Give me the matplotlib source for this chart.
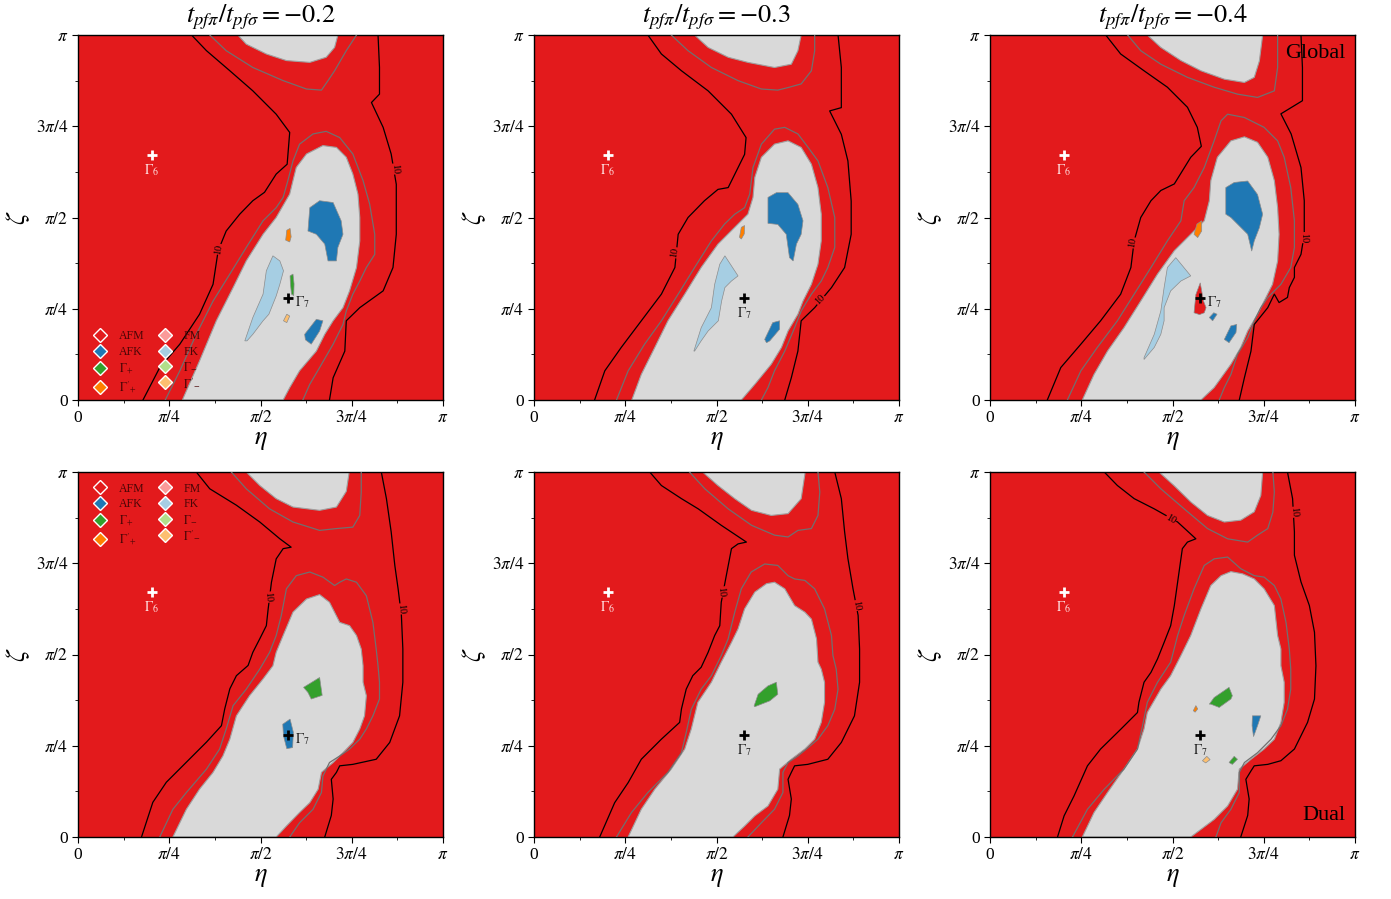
import numpy as np
import matplotlib
matplotlib.use("Agg")
import matplotlib.pyplot as plt
from matplotlib.lines import Line2D

plt.rcParams['font.family'] = ['Liberation Serif', 'DejaVu Serif']
plt.rcParams['mathtext.fontset'] = 'stix'

# ---------------- colours / phases ----------------
PHASES = ['AFM', 'AFK', 'G+', "G'+", 'FM', 'FK', 'G-', "G'-"]
PHASE_LABELS = ['AFM', 'AFK', r'$\Gamma_{+}$', r"$\Gamma'_{+}$", 'FM', 'FK', r'$\Gamma_{-}$', r"$\Gamma'_{-}$"]
PHASE_COLORS = ['#e31a1c', '#1f78b4', '#33a02c', '#ff7f00', '#fb9a99', '#a6cee3', '#b2df8a', '#fdbf6f']
GREY = '#d9d9d9'

TITLES = [r'$t_{pf\pi}/t_{pf\sigma}=-0.2$', r'$t_{pf\pi}/t_{pf\sigma}=-0.3$', r'$t_{pf\pi}/t_{pf\sigma}=-0.4$']
TICK_VALUES = [0, 0.25, 0.5, 0.75, 1.0]            # in units of pi
TICK_LABELS = ['0', r'$\pi/4$', r'$\pi/2$', r'$3\pi/4$', r'$\pi$']
GAMMA6 = (0.202, 0.671)   # (eta, zeta) in units of pi
GAMMA7 = (0.575, 0.279)

# ---------------- panel 1 (global, -0.2) ----------------
P1_GREY_MAIN = [(0.286,0),(0.333,0.107),(0.379,0.217),(0.425,0.308),(0.461,0.381),(0.507,0.454),(0.543,0.500),
    (0.580,0.564),(0.589,0.601),(0.598,0.637),(0.626,0.674),(0.671,0.697),(0.708,0.692),(0.735,0.665),(0.753,0.619),
    (0.767,0.564),(0.772,0.500),(0.772,0.436),(0.763,0.363),(0.744,0.299),(0.726,0.253),(0.699,0.217),(0.676,0.180),
    (0.653,0.134),(0.607,0.080),(0.580,0.034),(0.562,0)]
P1_GREY_TOP = [(0.438,1),(0.461,0.975),(0.516,0.948),(0.571,0.930),(0.635,0.925),(0.680,0.939),(0.703,0.966),(0.712,1)]
P1_C5_TOP = [(0.361,1),(0.406,0.957),(0.479,0.911),(0.562,0.875),(0.626,0.852),(0.667,0.849),(0.685,0.875),
    (0.703,0.902),(0.735,0.957),(0.763,1)]
P1_C5_MAIN = [(0.239,0),(0.279,0.080),(0.324,0.180),(0.370,0.271),(0.416,0.345),(0.461,0.418),(0.507,0.491),
    (0.543,0.527),(0.562,0.555),(0.575,0.601),(0.589,0.655),(0.607,0.701),(0.644,0.729),(0.680,0.736),(0.717,0.719),
    (0.753,0.674),(0.781,0.601),(0.799,0.537),(0.813,0.454),(0.813,0.399),(0.790,0.363),(0.772,0.326),(0.753,0.290),
    (0.735,0.244),(0.726,0.207),(0.699,0.153),(0.662,0.089),(0.635,0.043),(0.616,0)]
P1_C10_LEFT = [(0.311,1),(0.352,0.957),(0.416,0.902),(0.479,0.847),(0.543,0.783),(0.580,0.733),(0.573,0.646),
    (0.543,0.619),(0.511,0.569),(0.479,0.546),(0.443,0.509),(0.406,0.463),(0.384,0.409),(0.370,0.317),(0.333,0.235),
    (0.279,0.153),(0.224,0.089),(0.178,0)]
P1_C10_RIGHT = [(0.822,1),(0.826,0.911),(0.826,0.838),(0.804,0.815),(0.836,0.747),(0.858,0.674),(0.872,0.591),
    (0.872,0.454),(0.863,0.363),(0.836,0.299),(0.772,0.253),(0.735,0.217),(0.731,0.134),(0.699,0.061),(0.689,0)]
P1_AFK_A = [(0.635,0.527),(0.662,0.546),(0.699,0.541),(0.721,0.491),(0.726,0.454),(0.712,0.418),(0.708,0.381),
    (0.685,0.381),(0.676,0.427),(0.653,0.454),(0.630,0.463)]
P1_AFK_B = [(0.621,0.180),(0.653,0.221),(0.671,0.217),(0.662,0.189),(0.639,0.153),(0.623,0.165)]
P1_FK = [(0.457,0.162),(0.479,0.226),(0.507,0.290),(0.516,0.354),(0.534,0.395),(0.553,0.381),(0.563,0.354),
    (0.553,0.317),(0.543,0.285),(0.523,0.235),(0.507,0.217),(0.479,0.180),(0.463,0.162)]
P1_GPP = [(0.569,0.438),(0.572,0.465),(0.581,0.470),(0.584,0.447),(0.580,0.433)]
P1_GP = [(0.581,0.340),(0.589,0.345),(0.592,0.318),(0.591,0.286),(0.585,0.290),(0.582,0.318)]
P1_GMM = [(0.563,0.217),(0.572,0.235),(0.580,0.230),(0.572,0.212)]

# ---------------- panel 2 (global, -0.3) ----------------
P2_GREY_MAIN = [(0.268,0),(0.294,0.070),(0.331,0.144),(0.367,0.217),(0.413,0.290),(0.458,0.363),(0.504,0.427),
    (0.550,0.473),(0.586,0.509),(0.600,0.555),(0.605,0.610),(0.623,0.665),(0.659,0.701),(0.696,0.710),(0.732,0.692),
    (0.760,0.646),(0.778,0.582),(0.787,0.509),(0.787,0.436),(0.778,0.372),(0.760,0.317),(0.737,0.271),(0.723,0.235),
    (0.696,0.189),(0.678,0.144),(0.650,0.098),(0.605,0.043),(0.568,0)]
P2_GREY_TOP = [(0.440,1),(0.477,0.966),(0.532,0.939),(0.586,0.925),(0.659,0.911),(0.705,0.920),(0.723,0.957),(0.732,1)]
P2_C5_TOP = [(0.376,1),(0.422,0.957),(0.486,0.911),(0.559,0.875),(0.623,0.852),(0.668,0.849),(0.696,0.856),
    (0.732,0.866),(0.760,0.902),(0.769,0.957),(0.769,1)]
P2_C5_MAIN = [(0.226,0),(0.258,0.080),(0.303,0.153),(0.349,0.217),(0.395,0.290),(0.440,0.363),(0.486,0.436),
    (0.522,0.482),(0.550,0.509),(0.577,0.527),(0.591,0.564),(0.600,0.637),(0.623,0.701),(0.659,0.742),(0.687,0.747),
    (0.723,0.729),(0.751,0.692),(0.778,0.655),(0.805,0.582),(0.824,0.500),(0.824,0.418),(0.805,0.363),(0.787,0.326),
    (0.760,0.290),(0.732,0.244),(0.714,0.198),(0.687,0.134),(0.659,0.080),(0.641,0.034),(0.623,0)]
P2_C10_LEFT = [(0.312,1),(0.349,0.948),(0.404,0.902),(0.477,0.847),(0.541,0.783),(0.581,0.719),(0.577,0.673),
    (0.532,0.582),(0.504,0.577),(0.467,0.546),(0.422,0.500),(0.395,0.454),(0.386,0.363),(0.349,0.290),(0.294,0.217),
    (0.239,0.144),(0.194,0.080),(0.166,0)]
P2_C10_RIGHT = [(0.833,1),(0.842,0.911),(0.842,0.801),(0.810,0.792),(0.842,0.728),(0.860,0.655),(0.869,0.545),
    (0.869,0.454),(0.851,0.363),(0.815,0.308),(0.769,0.253),(0.732,0.217),(0.723,0.134),(0.705,0.061),(0.687,0)]
P2_AFK_A = [(0.641,0.555),(0.664,0.568),(0.696,0.568),(0.723,0.536),(0.737,0.491),(0.732,0.454),(0.719,0.427),
    (0.710,0.381),(0.700,0.390),(0.691,0.454),(0.668,0.481),(0.641,0.484)]
P2_AFK_B = [(0.632,0.166),(0.654,0.212),(0.673,0.217),(0.673,0.194),(0.646,0.162),(0.637,0.157)]
P2_FK = [(0.438,0.134),(0.458,0.198),(0.486,0.253),(0.495,0.317),(0.509,0.372),(0.523,0.395),(0.559,0.340),
    (0.541,0.326),(0.523,0.308),(0.514,0.271),(0.505,0.217),(0.477,0.189),(0.458,0.162),(0.440,0.134)]
P2_GPP = [(0.563,0.446),(0.568,0.473),(0.577,0.478),(0.576,0.455),(0.568,0.441)]

# ---------------- panel 3 (global, -0.4) ----------------
P3_GREY_MAIN = [(0.253,0),(0.285,0.070),(0.322,0.134),(0.367,0.198),(0.413,0.271),(0.459,0.345),(0.505,0.409),
    (0.550,0.454),(0.587,0.491),(0.601,0.546),(0.605,0.601),(0.623,0.665),(0.660,0.710),(0.697,0.721),(0.733,0.706),
    (0.761,0.665),(0.779,0.601),(0.788,0.527),(0.792,0.454),(0.788,0.381),(0.774,0.317),(0.751,0.271),(0.733,0.235),
    (0.706,0.189),(0.687,0.144),(0.660,0.098),(0.614,0.034),(0.578,0)]
P3_GREY_TOP = [(0.431,1),(0.468,0.966),(0.523,0.930),(0.578,0.902),(0.642,0.879),(0.697,0.870),(0.724,0.884),
    (0.738,0.929),(0.747,1)]
P3_C5_TOP = [(0.377,1),(0.413,0.957),(0.468,0.920),(0.541,0.884),(0.614,0.857),(0.678,0.838),(0.733,0.829),
    (0.779,0.847),(0.788,0.911),(0.788,1)]
P3_C5_MAIN = [(0.212,0),(0.249,0.080),(0.294,0.144),(0.349,0.217),(0.395,0.290),(0.441,0.363),(0.486,0.436),
    (0.523,0.491),(0.532,0.546),(0.559,0.582),(0.587,0.637),(0.614,0.710),(0.633,0.765),(0.651,0.783),(0.697,0.774),
    (0.751,0.747),(0.788,0.710),(0.806,0.665),(0.824,0.582),(0.834,0.491),(0.834,0.418),(0.824,0.363),(0.797,0.317),
    (0.761,0.281),(0.742,0.253),(0.724,0.217),(0.706,0.171),(0.678,0.125),(0.660,0.070),(0.642,0.034),(0.628,0)]
P3_C10_LEFT = [(0.317,1),(0.358,0.948),(0.422,0.902),(0.486,0.857),(0.541,0.802),(0.568,0.747),(0.579,0.695),
    (0.550,0.665),(0.505,0.592),(0.468,0.574),(0.441,0.546),(0.413,0.500),(0.395,0.436),(0.386,0.363),(0.358,0.290),
    (0.303,0.217),(0.249,0.153),(0.194,0.089),(0.157,0)]
P3_C10_RIGHT = [(0.852,1),(0.856,0.911),(0.856,0.820),(0.797,0.784),(0.825,0.729),(0.852,0.637),(0.861,0.546),
    (0.861,0.454),(0.852,0.399),(0.834,0.363),(0.834,0.336),(0.820,0.308),(0.815,0.281),(0.792,0.267),(0.779,0.290),
    (0.761,0.253),(0.724,0.207),(0.715,0.134),(0.697,0.061),(0.683,0)]
P3_AFK_A = [(0.646,0.582),(0.669,0.596),(0.706,0.600),(0.733,0.563),(0.747,0.509),(0.738,0.472),(0.724,0.436),
    (0.717,0.408),(0.706,0.454),(0.688,0.472),(0.660,0.500),(0.646,0.509)]
P3_AFK_B = [(0.642,0.166),(0.660,0.203),(0.676,0.207),(0.674,0.185),(0.655,0.157)]
P3_AFK_C = [(0.601,0.226),(0.613,0.239),(0.622,0.235),(0.610,0.217)]
P3_FK = [(0.422,0.116),(0.450,0.180),(0.468,0.244),(0.477,0.308),(0.486,0.363),(0.509,0.390),(0.550,0.340),
    (0.523,0.326),(0.495,0.299),(0.477,0.253),(0.477,0.217),(0.468,0.180),(0.450,0.144),(0.422,0.111)]
P3_AFM = [(0.559,0.239),(0.564,0.289),(0.576,0.321),(0.585,0.271),(0.592,0.253),(0.587,0.239),(0.574,0.234)]
P3_GPP = [(0.559,0.454),(0.567,0.482),(0.580,0.491),(0.580,0.463),(0.569,0.445)]

# ---------------- panel 4 (dual, -0.2) ----------------
P4_GREY_MAIN = [(0.260,0),(0.297,0.076),(0.333,0.131),(0.370,0.177),(0.397,0.222),(0.416,0.268),(0.434,0.332),
    (0.470,0.387),(0.507,0.433),(0.534,0.469),(0.543,0.506),(0.562,0.552),(0.589,0.616),(0.626,0.652),(0.662,0.664),
    (0.689,0.643),(0.717,0.588),(0.744,0.579),(0.763,0.552),(0.776,0.515),(0.781,0.469),(0.781,0.424),(0.790,0.387),
    (0.785,0.332),(0.772,0.296),(0.753,0.259),(0.726,0.231),(0.699,0.204),(0.667,0.177),(0.658,0.131),(0.635,0.094),
    (0.607,0.067),(0.571,0.030),(0.543,0)]
P4_GREY_TOP = [(0.461,1),(0.498,0.963),(0.543,0.927),(0.589,0.904),(0.662,0.895),(0.708,0.904),(0.735,0.947),(0.743,1)]
P4_C5_TOP = [(0.420,1),(0.461,0.954),(0.525,0.899),(0.589,0.863),(0.662,0.840),(0.708,0.845),(0.753,0.849),
    (0.772,0.881),(0.776,0.945),(0.776,1)]
P4_C5_MAIN = [(0.224,0),(0.260,0.076),(0.297,0.122),(0.352,0.186),(0.388,0.241),(0.406,0.296),(0.425,0.360),
    (0.461,0.405),(0.498,0.460),(0.525,0.506),(0.543,0.552),(0.557,0.607),(0.571,0.680),(0.598,0.716),(0.635,0.726),
    (0.671,0.712),(0.703,0.689),(0.717,0.698),(0.735,0.707),(0.763,0.698),(0.790,0.661),(0.808,0.588),(0.817,0.515),
    (0.822,0.469),(0.826,0.424),(0.826,0.378),(0.808,0.332),(0.790,0.296),(0.772,0.268),(0.744,0.241),(0.717,0.222),
    (0.689,0.204),(0.671,0.167),(0.667,0.122),(0.644,0.076),(0.607,0.039),(0.580,0)]
P4_C10_LEFT = [(0.324,1),(0.361,0.954),(0.434,0.909),(0.498,0.863),(0.553,0.817),(0.584,0.794),(0.562,0.790),
    (0.543,0.762),(0.530,0.698),(0.521,0.625),(0.516,0.579),(0.498,0.543),(0.479,0.506),(0.466,0.470),(0.434,0.442),
    (0.416,0.406),(0.402,0.351),(0.393,0.305),(0.352,0.260),(0.297,0.205),(0.242,0.150),(0.205,0.095),(0.174,0)]
P4_C10_RIGHT = [(0.831,1),(0.845,0.927),(0.858,0.836),(0.868,0.744),(0.877,0.680),(0.886,0.607),(0.890,0.515),
    (0.890,0.424),(0.881,0.332),(0.854,0.259),(0.817,0.213),(0.753,0.199),(0.717,0.195),(0.708,0.177),(0.694,0.158),
    (0.699,0.104),(0.694,0.059),(0.676,0)]
P4_GP = [(0.618,0.410),(0.662,0.437),(0.669,0.388),(0.639,0.378),(0.630,0.396)]
P4_AFK = [(0.561,0.309),(0.581,0.323),(0.590,0.287),(0.588,0.245),(0.572,0.242),(0.563,0.277)]

# ---------------- panel 5 (dual, -0.3) ----------------
P5_GREY_MAIN = [(0.258,0),(0.294,0.076),(0.331,0.131),(0.376,0.186),(0.413,0.241),(0.431,0.296),(0.449,0.369),
    (0.486,0.424),(0.513,0.479),(0.541,0.533),(0.559,0.570),(0.577,0.625),(0.605,0.671),(0.637,0.694),(0.659,0.698),
    (0.687,0.680),(0.714,0.634),(0.742,0.616),(0.760,0.597),(0.774,0.543),(0.778,0.479),(0.787,0.460),(0.796,0.424),
    (0.796,0.369),(0.787,0.314),(0.769,0.268),(0.742,0.241),(0.705,0.213),(0.673,0.186),(0.668,0.131),(0.641,0.085),
    (0.605,0.058),(0.577,0.030),(0.545,0)]
P5_GREY_TOP = [(0.462,1),(0.504,0.963),(0.550,0.927),(0.596,0.895),(0.650,0.881),(0.696,0.886),(0.732,0.927),(0.743,1)]
P5_C5_TOP = [(0.426,1),(0.468,0.954),(0.532,0.899),(0.596,0.854),(0.659,0.827),(0.696,0.822),(0.723,0.840),
    (0.760,0.845),(0.778,0.881),(0.783,0.945),(0.778,1)]
P5_C5_MAIN = [(0.226,0),(0.267,0.067),(0.312,0.122),(0.367,0.177),(0.404,0.231),(0.417,0.286),(0.431,0.350),
    (0.458,0.405),(0.486,0.442),(0.513,0.497),(0.532,0.543),(0.550,0.616),(0.568,0.680),(0.595,0.726),(0.632,0.748),
    (0.668,0.744),(0.696,0.716),(0.714,0.707),(0.742,0.703),(0.769,0.680),(0.796,0.625),(0.815,0.552),(0.819,0.497),
    (0.828,0.460),(0.833,0.405),(0.824,0.350),(0.805,0.305),(0.778,0.268),(0.751,0.245),(0.723,0.222),(0.696,0.204),
    (0.682,0.177),(0.682,0.122),(0.659,0.076),(0.623,0.039),(0.586,0)]
P5_C10_LEFT = [(0.317,1),(0.349,0.963),(0.404,0.927),(0.450,0.899),(0.513,0.854),(0.582,0.808),(0.559,0.803),
    (0.541,0.790),(0.527,0.717),(0.513,0.643),(0.509,0.579),(0.495,0.552),(0.477,0.506),(0.458,0.465),(0.435,0.442),
    (0.417,0.405),(0.404,0.351),(0.399,0.314),(0.349,0.268),(0.294,0.213),(0.258,0.149),(0.221,0.094),(0.180,0)]
P5_C10_RIGHT = [(0.824,1),(0.842,0.927),(0.851,0.836),(0.860,0.763),(0.874,0.680),(0.888,0.607),(0.892,0.515),
    (0.892,0.424),(0.878,0.332),(0.842,0.259),(0.805,0.213),(0.750,0.199),(0.714,0.195),(0.705,0.177),(0.696,0.158),
    (0.705,0.104),(0.700,0.059),(0.682,0)]
P5_GP = [(0.603,0.359),(0.614,0.391),(0.641,0.414),(0.664,0.424),(0.668,0.391),(0.646,0.373),(0.623,0.364),(0.605,0.357)]

# ---------------- panel 6 (dual, -0.4) ----------------
P6_GREY_MAIN = [(0.253,0),(0.285,0.067),(0.322,0.122),(0.367,0.186),(0.404,0.241),(0.422,0.296),(0.431,0.341),
    (0.468,0.405),(0.495,0.442),(0.523,0.497),(0.550,0.552),(0.578,0.625),(0.605,0.689),(0.633,0.716),(0.660,0.727),
    (0.692,0.721),(0.724,0.707),(0.751,0.680),(0.779,0.634),(0.788,0.552),(0.797,0.515),(0.797,0.469),(0.806,0.424),
    (0.806,0.369),(0.797,0.314),(0.779,0.268),(0.751,0.241),(0.715,0.213),(0.683,0.186),(0.678,0.131),(0.651,0.085),
    (0.614,0.048),(0.578,0.021),(0.550,0)]
P6_GREY_TOP = [(0.463,1),(0.504,0.963),(0.550,0.918),(0.596,0.881),(0.642,0.863),(0.687,0.868),(0.724,0.891),
    (0.742,0.936),(0.747,1)]
P6_C5_TOP = [(0.422,1),(0.468,0.954),(0.532,0.899),(0.596,0.845),(0.651,0.817),(0.706,0.808),(0.733,0.827),
    (0.761,0.845),(0.775,0.890),(0.779,0.945),(0.775,1)]
P6_C5_MAIN = [(0.226,0),(0.267,0.076),(0.313,0.131),(0.367,0.186),(0.404,0.241),(0.418,0.305),(0.431,0.369),
    (0.459,0.424),(0.495,0.479),(0.514,0.552),(0.532,0.607),(0.559,0.680),(0.587,0.744),(0.614,0.762),(0.651,0.767),
    (0.687,0.735),(0.724,0.716),(0.751,0.712),(0.779,0.689),(0.797,0.652),(0.811,0.588),(0.820,0.515),(0.824,0.460),
    (0.824,0.405),(0.815,0.350),(0.797,0.305),(0.770,0.268),(0.733,0.231),(0.697,0.204),(0.683,0.177),(0.683,0.122),
    (0.660,0.076),(0.633,0.039),(0.619,0)]
P6_C10_LEFT = [(0.313,1),(0.349,0.963),(0.395,0.927),(0.450,0.899),(0.514,0.863),(0.564,0.817),(0.541,0.808),
    (0.527,0.790),(0.514,0.698),(0.505,0.634),(0.495,0.579),(0.477,0.533),(0.459,0.488),(0.441,0.451),(0.422,0.424),
    (0.408,0.369),(0.404,0.341),(0.358,0.295),(0.303,0.241),(0.267,0.195),(0.230,0.112),(0.203,0.058),(0.185,0)]
P6_C10_RIGHT = [(0.815,1),(0.829,0.927),(0.834,0.836),(0.834,0.772),(0.852,0.699),(0.875,0.634),(0.889,0.561),
    (0.893,0.469),(0.889,0.378),(0.870,0.314),(0.834,0.241),(0.797,0.209),(0.761,0.199),(0.724,0.195),(0.715,0.181),
    (0.701,0.158),(0.710,0.104),(0.706,0.059),(0.687,0)]
P6_GP_A = [(0.601,0.364),(0.614,0.382),(0.655,0.410),(0.664,0.387),(0.660,0.378),(0.628,0.355),(0.605,0.364)]
P6_GP_B = [(0.655,0.204),(0.669,0.221),(0.678,0.213),(0.664,0.199)]
P6_AFK = [(0.719,0.332),(0.742,0.332),(0.733,0.305),(0.722,0.275),(0.718,0.305)]
P6_GMM = [(0.582,0.209),(0.594,0.221),(0.603,0.212),(0.591,0.203)]
P6_GPP = [(0.557,0.346),(0.564,0.360),(0.569,0.351),(0.562,0.342)]

# contour "10" label positions (eta, zeta in units of pi, rotation in degrees)
P1_LABELS10 = [(0.386, 0.413, 80), (0.868, 0.633, -85)]
P2_LABELS10 = [(0.385, 0.404, 80), (0.783, 0.276, 45)]
P3_LABELS10 = [(0.390, 0.431, 80), (0.861, 0.445, -88)]
P4_LABELS10 = [(0.521, 0.657, -85), (0.886, 0.625, -85)]
P5_LABELS10 = [(0.513, 0.671, -85), (0.883, 0.634, -80)]
P6_LABELS10 = [(0.495, 0.869, -30), (0.834, 0.890, -85)]

# ---------------- build panel table ----------------
panels = [
    dict(grey=[P1_GREY_MAIN, P1_GREY_TOP], c5=[P1_C5_TOP, P1_C5_MAIN], c10=[P1_C10_LEFT, P1_C10_RIGHT],
         patches=[('AFK', P1_AFK_A), ('AFK', P1_AFK_B), ('FK', P1_FK), ("G'+", P1_GPP), ('G+', P1_GP), ("G'-", P1_GMM)],
         labels10=P1_LABELS10, g7='right', legend='lower'),
    dict(grey=[P2_GREY_MAIN, P2_GREY_TOP], c5=[P2_C5_TOP, P2_C5_MAIN], c10=[P2_C10_LEFT, P2_C10_RIGHT],
         patches=[('AFK', P2_AFK_A), ('AFK', P2_AFK_B), ('FK', P2_FK), ("G'+", P2_GPP)],
         labels10=P2_LABELS10, g7='below', legend=None),
    dict(grey=[P3_GREY_MAIN, P3_GREY_TOP], c5=[P3_C5_TOP, P3_C5_MAIN], c10=[P3_C10_LEFT, P3_C10_RIGHT],
         patches=[('AFK', P3_AFK_A), ('AFK', P3_AFK_B), ('AFK', P3_AFK_C), ('FK', P3_FK), ('AFM', P3_AFM), ("G'+", P3_GPP)],
         labels10=P3_LABELS10, g7='right', legend=None),
    dict(grey=[P4_GREY_MAIN, P4_GREY_TOP], c5=[P4_C5_TOP, P4_C5_MAIN], c10=[P4_C10_LEFT, P4_C10_RIGHT],
         patches=[('G+', P4_GP), ('AFK', P4_AFK)],
         labels10=P4_LABELS10, g7='right', legend='upper'),
    dict(grey=[P5_GREY_MAIN, P5_GREY_TOP], c5=[P5_C5_TOP, P5_C5_MAIN], c10=[P5_C10_LEFT, P5_C10_RIGHT],
         patches=[('G+', P5_GP)],
         labels10=P5_LABELS10, g7='below', legend=None),
    dict(grey=[P6_GREY_MAIN, P6_GREY_TOP], c5=[P6_C5_TOP, P6_C5_MAIN], c10=[P6_C10_LEFT, P6_C10_RIGHT],
         patches=[('G+', P6_GP_A), ('G+', P6_GP_B), ('AFK', P6_AFK), ("G'-", P6_GMM), ("G'+", P6_GPP)],
         labels10=P6_LABELS10, g7='below', legend=None),
]

color_of = dict(zip(PHASES, PHASE_COLORS))

W, H = 1391, 899
fig = plt.figure(figsize=(W / 100, H / 100), dpi=100)
lefts = [78, 534, 990]
tops = [35, 472]
size = 365

for i, pan in enumerate(panels):
    r, c = divmod(i, 3)
    ax = fig.add_axes([lefts[c] / W, 1 - (tops[r] + size) / H, size / W, size / H])
    ax.set_facecolor(color_of['AFM'])
    ax.set_xlim(0, np.pi)
    ax.set_ylim(0, np.pi)

    for poly in pan['grey']:
        a = np.array(poly) * np.pi
        ax.fill(a[:, 0], a[:, 1], facecolor=GREY, edgecolor='#a0a0a0', lw=0.8, zorder=1)
    for ph, poly in pan['patches']:
        a = np.array(poly) * np.pi
        ax.fill(a[:, 0], a[:, 1], facecolor=color_of[ph], edgecolor='#8c8c8c', lw=0.5, zorder=2)
    for line in pan['c5']:
        a = np.array(line) * np.pi
        ax.plot(a[:, 0], a[:, 1], color='#707070', lw=0.9, zorder=3)
    for line in pan['c10']:
        a = np.array(line) * np.pi
        ax.plot(a[:, 0], a[:, 1], color='black', lw=0.9, zorder=3)
    for (x, y, rot) in pan['labels10']:
        ax.text(x * np.pi, y * np.pi, '10', fontsize=7.5, rotation=rot, ha='center', va='center', zorder=4,
                bbox=dict(facecolor=color_of['AFM'], edgecolor='none', pad=0.3))

    # high-symmetry points
    g6 = np.array(GAMMA6) * np.pi
    g7 = np.array(GAMMA7) * np.pi
    ax.plot(g6[0], g6[1], marker='+', color='white', ms=7, mew=2, zorder=5)
    ax.annotate(r'$\Gamma_6$', g6, xytext=(0, -11), textcoords='offset points', ha='center', va='center',
                color='#ffe0e0', fontsize=10, zorder=5)
    ax.plot(g7[0], g7[1], marker='+', color='black', ms=7, mew=2, zorder=5)
    if pan['g7'] == 'right':
        ax.annotate(r'$\Gamma_7$', g7, xytext=(5, -3), textcoords='offset points', ha='left', va='center',
                    color='#222222', fontsize=10, zorder=5)
    else:
        ax.annotate(r'$\Gamma_7$', g7, xytext=(0, -11), textcoords='offset points', ha='center', va='center',
                    color='#222222', fontsize=10, zorder=5)

    ax.set_xticks(np.array(TICK_VALUES) * np.pi)
    ax.set_yticks(np.array(TICK_VALUES) * np.pi)
    ax.set_xticklabels(TICK_LABELS, fontsize=12.5)
    ax.set_yticklabels(TICK_LABELS, fontsize=12.5)
    ax.set_xticks(np.arange(1, 8, 2) * np.pi / 8, minor=True)
    ax.set_yticks(np.arange(1, 8, 2) * np.pi / 8, minor=True)
    ax.tick_params(which='major', length=4, width=0.8, direction='out', pad=3)
    ax.tick_params(which='minor', length=2.5, width=0.6, direction='out')
    ax.set_xlabel(r'$\eta$', fontsize=19, labelpad=3)
    ax.set_ylabel(r'$\zeta$', fontsize=19, labelpad=3)
    for sp in ax.spines.values():
        sp.set_linewidth(1.0)

    if r == 0:
        ax.set_title(TITLES[c], fontsize=19, pad=9)

    if pan['legend'] is not None:
        handles = [Line2D([], [], ls='none', marker='D', ms=7, mfc=col, mec='white', mew=1.0)
                   for col in PHASE_COLORS]
        loc = 'lower left' if pan['legend'] == 'lower' else 'upper left'
        anchor = (0.015, -0.015) if pan['legend'] == 'lower' else (0.015, 1.0)
        leg = ax.legend(handles, PHASE_LABELS, loc=loc, bbox_to_anchor=anchor, ncol=2, frameon=False,
                        fontsize=8.5, handlelength=1.0, handletextpad=1.1, columnspacing=1.2, labelspacing=0.3)
        for t in leg.get_texts():
            t.set_color('#4a0606')
        leg.set_zorder(6)

    if i == 2:
        ax.text(0.975, 0.95, 'Global', transform=ax.transAxes, ha='right', va='center', fontsize=16, zorder=6)
    if i == 5:
        ax.text(0.975, 0.058, 'Dual', transform=ax.transAxes, ha='right', va='center', fontsize=16, zorder=6)

fig.savefig('out.png', dpi=100)
